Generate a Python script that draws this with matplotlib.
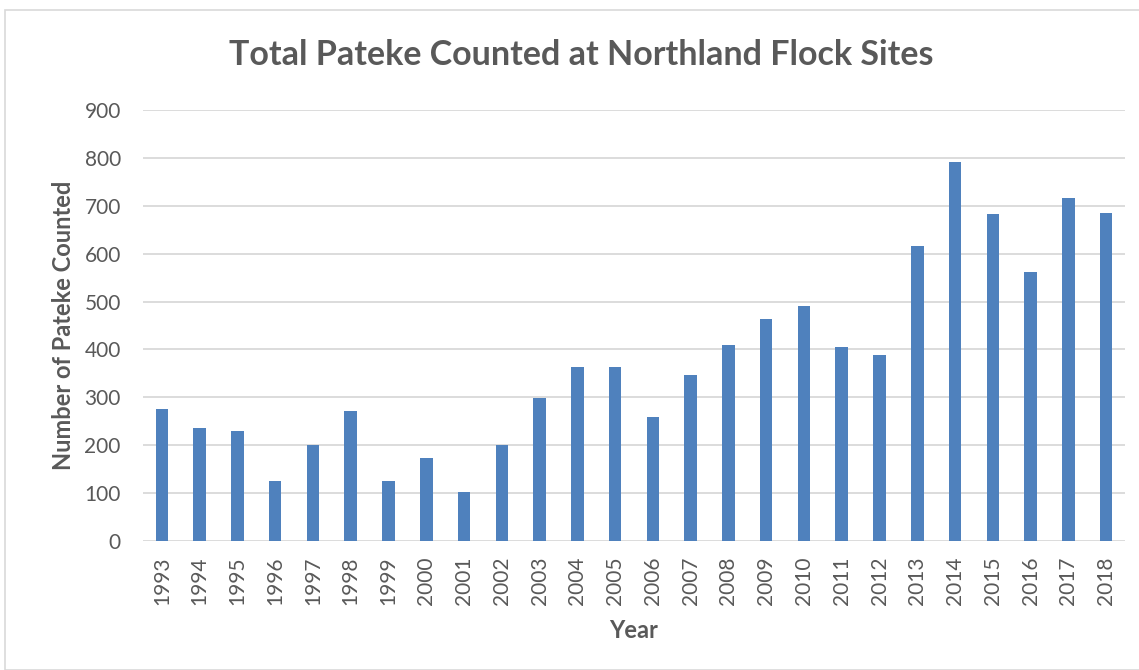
import matplotlib
matplotlib.use("Agg")
import matplotlib.pyplot as plt
from matplotlib.patches import Rectangle

years = [str(y) for y in range(1993, 2019)]
counts = [275, 236, 229, 126, 201, 272, 126, 174, 103, 201,
          298, 364, 364, 258, 346, 409, 463, 490, 406, 389,
          615, 792, 682, 561, 716, 685]
yticks = [0, 100, 200, 300, 400, 500, 600, 700, 800, 900]

plt.rcParams['font.family'] = ['Lato', 'DejaVu Sans']
txt = '#595959'

fig = plt.figure(figsize=(11.39, 6.70), dpi=100)
fig.patch.set_facecolor('white')
fig.patches.append(Rectangle((5/1139, 0), 1.0, 1 - 10/670, transform=fig.transFigure,
                             fill=False, edgecolor='#D9D9D9', linewidth=1.2, zorder=0))

ax = fig.add_axes([143/1139, 1 - 541/670, (1125 - 143)/1139, (541 - 110)/670])
x = list(range(len(years)))
ax.bar(x, counts, width=0.33, color='#4F81BD', zorder=3)
ax.set_xlim(-0.5, len(years) - 0.5)
ax.set_ylim(0, 900)
ax.set_yticks(yticks)
ax.set_yticklabels([str(v) for v in yticks], fontsize=15, color=txt)
ax.set_xticks(x)
ax.set_xticklabels(years, rotation=90, fontsize=15, color=txt)
ax.tick_params(axis='y', length=0, pad=16)
ax.tick_params(axis='x', length=0, pad=11)
ax.grid(axis='y', color='#D9D9D9', linewidth=1.3, zorder=0)
for s in ax.spines.values():
    s.set_visible(False)
ax.set_ylabel('Number of Pateke Counted', fontsize=17, fontweight='bold', color=txt, labelpad=7)
ax.set_xlabel('Year', fontsize=17, fontweight='bold', color=txt, labelpad=10)
fig.text(581/1139, 1 - 55/670, 'Total Pateke Counted at Northland Flock Sites', ha='center', va='center',
         fontsize=24.5, fontweight='bold', color=txt)

fig.savefig('out.png', dpi=100)
